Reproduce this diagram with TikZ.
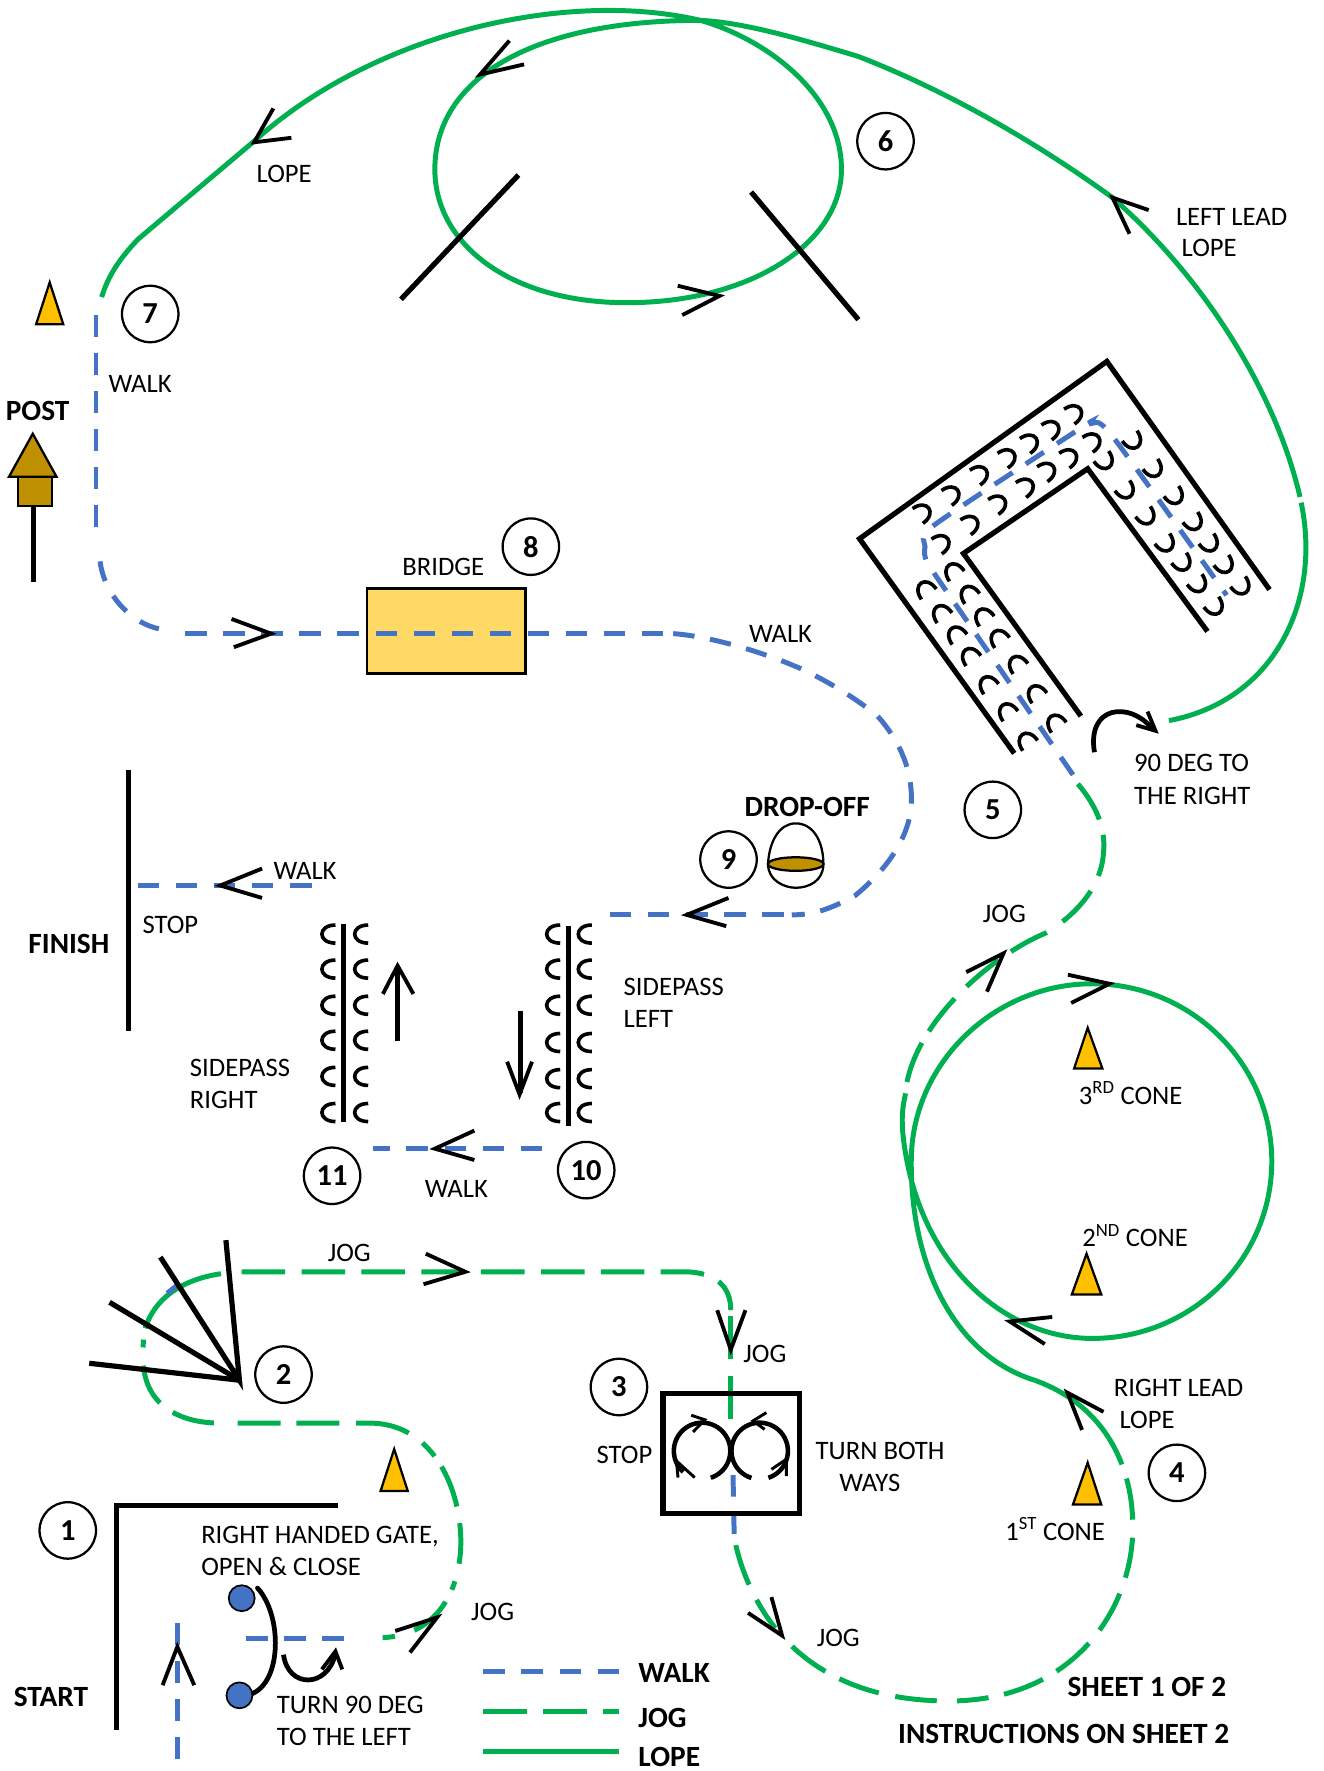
\documentclass[tikz,border=0pt]{standalone}
\usepackage{fontspec}
\setmainfont{Carlito}
\definecolor{walkc}{HTML}{4472C4}
\definecolor{jogc}{HTML}{00B050}
\definecolor{conec}{HTML}{FFC000}
\definecolor{postc}{HTML}{BF9000}
\definecolor{bridgec}{HTML}{FFD966}
\tikzset{
  walk/.style={draw=walkc,line width=4.4pt,dash pattern=on 19pt off 14.7pt},
  jog/.style={draw=jogc,line width=4.4pt,dash pattern=on 38.5pt off 14.5pt},
  lope/.style={draw=jogc,line width=4.4pt},
  bar/.style={draw=black,line width=4.6pt},
  chev/.style={draw=black,line width=3.4pt,line join=miter},
  hoofm/.style={draw=black,line width=3.2pt},
  conem/.style={draw=black,line width=2pt,fill=conec,line join=miter},
  numb/.style={circle,draw=black,line width=2pt,minimum size=50pt,inner sep=0pt,font=\fontsize{27}{27}\selectfont\bfseries},
  lab/.style={anchor=west,inner sep=0pt,text height=15pt,text depth=0pt,font=\fontsize{23.6}{28}\selectfont},
  blab/.style={anchor=west,inner sep=0pt,text height=16.5pt,text depth=0pt,font=\fontsize{26}{28}\selectfont\bfseries},
}
\newcommand\hoofat[3]{\draw[hoofm,shift={(#1,#2)},rotate=#3] (-8,5) .. controls (-8,-11) and (8,-11) .. (8,5);}
\begin{document}
\begin{tikzpicture}[x=1pt,y=-1pt]
\useasboundingbox (0,0) rectangle (1172,1568);
% lope: big loop
\draw[lope] (90,263) .. controls (97,240) and (110,225) .. (122,212) -- (225,125) .. controls (330,30) and (500,-10) .. (620,18) .. controls (680,35) and (745,85) .. (745,150) .. controls (745,215) and (665,268) .. (555,268) .. controls (450,268) and (385,215) .. (385,150) .. controls (385,70) and (470,18) .. (620,18) .. controls (660,20) and (710,35) .. (760,50) .. controls (850,85) and (930,135) .. (985,175) .. controls (1070,250) and (1130,350) .. (1151,440);
\draw[lope] (1152,445) .. controls (1170,530) and (1130,620) .. (1035,638);
% right lead lope
\draw[lope] (916,1222) .. controls (845,1200) and (806,1120) .. (806.8,1028) .. controls (806.8,942) and (880,871) .. (967,871) .. controls (1055,871) and (1126,942) .. (1126,1028) .. controls (1126,1115) and (1055,1185) .. (967,1185) .. controls (890,1185) and (812,1120) .. (799.5,1005) .. controls (798,990) and (799,980) .. (801.8,968);
% jog segments
\draw[jog,dash pattern=on 37pt off 14pt on 37pt off 15pt on 37pt off 17pt on 36pt off 13pt on 37pt off 15pt on 37pt off 12pt on 38pt off 80pt] (954.3,694) .. controls (972,715) and (979,735) .. (977,755) .. controls (975,790) and (945,815) .. (926,826) .. controls (880,845) and (815,900) .. (803,958);
\draw[jog,dash pattern=on 37pt off 15pt on 30pt off 22pt on 37pt off 14pt on 37pt off 15pt on 37pt off 18pt on 28pt off 14pt on 37pt off 14pt on 38pt off 15pt on 37pt off 15pt on 36pt off 16pt on 37pt off 13pt on 200pt off 10pt] (651.4,1368) .. controls (665,1425) and (710,1506) .. (840,1506) .. controls (950,1506) and (1003,1425) .. (1003,1352) .. controls (1003,1300) and (980,1245) .. (916,1222);
\draw[jog] (214,1126) -- (605,1126) .. controls (635,1126) and (647,1140) .. (647,1160);
\draw[jog,dash pattern=on 38pt off 15pt] (647,1165) -- (647,1256);
\draw[lope] (195.6,1127.7) .. controls (160,1133) and (137,1150) .. (128.5,1176);
\draw[lope] (127,1186) -- (126.7,1193);
\draw[jog,dash pattern=on 37pt off 14pt on 38pt off 21pt on 38pt off 14pt on 38pt off 15pt on 48pt off 15pt on 16pt off 11pt on 38pt off 15pt on 36pt off 16pt on 8pt off 12pt on 38pt off 18pt on 11pt off 100pt] (127,1209) .. controls (130,1245) and (160,1260) .. (195,1260) -- (330,1260) .. controls (385,1262) and (408,1320) .. (408,1365) .. controls (408,1410) and (385,1450) .. (335,1450);
% walk segments
\draw[walk] (85,279) -- (85,470);
\draw[walk,dash pattern=on 18pt off 15pt] (88.6,497) .. controls (92,525) and (115,552) .. (142,557);
\draw[walk] (164,561) -- (590,561);
\draw[walk,dash pattern=on 19pt off 14pt] (596,561) .. controls (625,563) and (670,575) .. (709,592) .. controls (735,604) and (760,620) .. (777,634) .. controls (800,660) and (807,685) .. (807,708) .. controls (807,740) and (785,770) .. (757,793) .. controls (735,805) and (720,810) .. (701,810);
\draw[walk] (540,810) -- (696,810);
\draw[walk] (480,1017) -- (330,1017);
\draw[walk] (122,784) -- (280,784);
\draw[walk] (157,1437) -- (157,1557);
\draw[walk] (218,1451) -- (305,1451);
\draw[walk] (649,1306) -- (650,1358);
\draw[walk,dash pattern=on 19pt off 14pt] plot[smooth,tension=0.4] coordinates {(950,686) (848,538) (821,498) (819,484) (827,465) (957,379) (966,375) (984,385) (1086,527)};
\draw[draw=walkc,line width=4.4pt] (148,1145) -- (158,1137);
% legend
\draw[walk] (428,1480) -- (548,1480);
\draw[jog] (428,1515) -- (548,1515);
\draw[lope] (428,1551) -- (548,1551);
% bridge
\fill[bridgec] (325,521) rectangle (465,596);
\draw[walk] (332.5,561) -- (465,561);
\draw[draw=black,line width=2.5pt] (325,521) rectangle (465,596);
% barriers
\draw[bar] (355,265) -- (459,155);
\draw[bar] (665,170) -- (760,283);
\draw[bar,line join=miter] (898,667) -- (761,477) -- (980,320) -- (1124,522);
\draw[bar,line join=miter] (957,634) -- (853,490) -- (963,415) -- (1069,559);
\draw[bar] (114,682) -- (114,913);
\draw[bar] (304,818) -- (304,993);
\draw[bar] (503,820) -- (503,997);
\draw[bar,line join=miter] (299,1333) -- (103,1333) -- (103,1532);
\draw[bar,line join=miter] (200,1098) -- (212,1222) -- (142,1113);
\draw[bar] (212,1222) -- (97,1153);
\draw[bar] (212,1222) -- (79,1207);
\draw[draw=black,line width=4.6pt] (587,1234) rectangle (708,1340);
% hooves chute
\foreach \x/\y in {819.5/522,833.4/543,846.7/562,859/581,874.7/606,891.8/630,909.2/656,844.3/506,857.9/526,870.8/546,884.4/565,900.6/588,917.4/614,934.6/640}{\hoofat{\x}{\y}{35}}
\foreach \x/\y in {816.6/454,842.2/438,867.3/420,891.8/405,911.6/392,930.7/380,950.8/366,833.4/481,859/464,883.5/446,908/431,926.9/417,946.4/405,967/391}{\hoofat{\x}{\y}{-55}}
\foreach \x/\y in {1003/390,1021.3/415,1039.9/439,1056.7/462,1070.9/481,1084.1/500,1098.9/519,977.9/408,996.5/434,1014.8/457,1031.9/481,1046.7/498,1060.5/517,1075.3/537}{\hoofat{\x}{\y}{-145}}
% hooves sidepass
\foreach \y in {827,858,890,921,953,985}{\hoofat{292}{\y}{90}\hoofat{321}{\y}{90}}
\foreach \y in {827,858,890,923,955,985}{\hoofat{491}{\y}{90}\hoofat{519}{\y}{90}}
% chevrons
\draw[chev] (242,96) -- (225,126) -- (258,122);
\draw[chev] (451,36) -- (425,66) -- (464,57);
\draw[chev] (600,253) -- (637,262) -- (604,279);
\draw[chev] (1017,186) -- (985,175) -- (1000,207);
\draw[chev] (205,548) -- (240,561) -- (207,573);
\draw[chev] (232,769) -- (195,784) -- (232,795);
\draw[chev] (645,795) -- (608,810) -- (643,820);
\draw[chev] (420,1001) -- (385,1017) -- (420,1027);
\draw[chev] (377,1110) -- (412,1126) -- (375,1137);
\draw[chev] (635,1160) -- (647,1195) -- (660,1160);
\draw[chev] (662.3,1428) -- (692.4,1448) -- (683,1414);
\draw[chev] (977,1250) -- (945,1233) -- (958,1266);
\draw[chev] (931.6,1166) -- (894,1170) -- (925,1190);
\draw[chev] (945.5,863) -- (982.4,871) -- (948.4,888);
\draw[chev] (855.5,860.7) -- (888.5,844) -- (873.8,878);
\draw[chev] (350,1444) -- (387,1432) -- (363,1463);
\draw[chev] (144,1492) -- (157,1458) -- (172,1492);
% straight arrows
\draw[bar] (352,922) -- (352,856);
\draw[chev] (339,880) -- (352,855) -- (366,880);
\draw[bar] (461,895) -- (461,968);
\draw[chev] (449,940) -- (460,969) -- (471,940);
% turn arrows
\draw[line width=4.2pt] (251,1465) .. controls (255,1495) and (290,1495) .. (297,1464);
\draw[chev] (285,1478) -- (297,1462) -- (303,1478);
\draw[line width=4.2pt] (969,666) .. controls (962,625) and (1000,620) .. (1021,646);
\draw[chev] (1006,642) -- (1023,647) -- (1016,630);
\draw[line width=4.2pt,line cap=round] (228,1406) .. controls (250,1430) and (250,1490) .. (222,1500);
% box 3 turns
\draw[line width=4pt] plot[domain=72:-228,samples=50] ({621.6+25*cos(\x)},{1284.6+25*sin(\x)});
\draw[line width=4pt] plot[domain=107:432,samples=50] ({672.6+25*cos(\x)},{1284.6+25*sin(\x)});
\draw[chev,line width=2.6pt] (612,1253) -- (624,1257) -- (613.6,1267.8);
\draw[chev,line width=2.6pt] (678.5,1250.7) -- (666.7,1258) -- (677,1265.5);
\draw[chev,line width=2.6pt] (600.3,1308.2) -- (598.9,1293.5) -- (615.1,1308.2);
\draw[chev,line width=2.6pt] (696.2,1306.8) -- (696.2,1292) -- (683,1300.9);
% cones and post
\draw[conem] (44,250) -- (32,287) -- (56,287) -- cycle;
\draw[conem] (349,1283) -- (337,1320) -- (361,1320) -- cycle;
\draw[conem] (963,1295) -- (950,1332) -- (975,1332) -- cycle;
\draw[conem] (962,1110) -- (949,1146) -- (975,1146) -- cycle;
\draw[conem] (963,910) -- (951,946) -- (976,946) -- cycle;
\draw[conem,fill=postc] (29,384) -- (8,422) -- (50,422) -- cycle;
\draw[conem,fill=postc] (16,422) rectangle (46,448);
\draw[bar] (30,448) -- (30,515);
% gate posts
\draw[draw=black,line width=1.5pt,fill=walkc] (214,1415) circle (11.5);
\draw[draw=black,line width=1.5pt,fill=walkc] (212,1501) circle (11.5);
% drop-off
\draw[draw=black,line width=2pt] (680,765) .. controls (680,780) and (695,786) .. (704.5,786) .. controls (716,786) and (729,780) .. (729,765) .. controls (729,745) and (720,729) .. (704.5,729) .. controls (690,729) and (681,745) .. (680,765);
\draw[draw=black,line width=2pt,fill=postc] (704.5,765) ellipse (24.6 and 6);
% numbers
\node[numb] (n1) at (60,1355) {1};
\node[numb] (n2) at (251,1217) {2};
\node[numb] (n3) at (548,1228) {3};
\node[numb] (n4) at (1042,1304) {4};
\node[numb] (n5) at (879,717) {5};
\node[numb] (n6) at (784,125) {6};
\node[numb] (n7) at (133,278) {7};
\node[numb] (n8) at (470,484) {8};
\node[numb] (n9) at (645,761) {9};
\node[numb] (n10) at (519,1036) {10};
\node[numb] (n11) at (294,1041) {11};
% labels
\node[lab] (t1) at (96,340) {WALK};
\node[lab] (t2) at (227,154) {LOPE};
\node[lab] (t3) at (1041,192) {LEFT LEAD};
\node[lab] (t4) at (1046,220) {LOPE};
\node[blab] (t5) at (5,364) {POST};
\node[lab] (t6) at (356,502) {BRIDGE};
\node[lab] (t7) at (663,561) {WALK};
\node[blab] (t8) at (659,715) {DROP-OFF};
\node[lab] (t9) at (1004,676) {90 DEG TO};
\node[lab] (t10) at (1004,705) {THE RIGHT};
\node[lab] (t11) at (870,809) {JOG};
\node[lab] (t12) at (126,819) {STOP};
\node[blab] (t13) at (25,836) {FINISH};
\node[lab] (t14) at (552,874) {SIDEPASS};
\node[lab] (t15) at (552,902) {LEFT};
\node[lab] (t16) at (168,946) {SIDEPASS};
\node[lab] (t17) at (168,974) {RIGHT};
\node[lab] (t18) at (242,771) {WALK};
\node[lab] (t19) at (955,970) {3\textsuperscript{RD} CONE};
\node[lab] (t20) at (958,1096) {2\textsuperscript{ND} CONE};
\node[lab] (t21) at (376,1053) {WALK};
\node[lab] (t22) at (290,1109) {JOG};
\node[lab] (t23) at (658,1199) {JOG};
\node[lab] (t24) at (986,1229) {RIGHT LEAD};
\node[lab] (t25) at (991,1257) {LOPE};
\node[lab] (t26) at (722,1285) {TURN BOTH};
\node[lab] (t27) at (743,1313) {WAYS};
\node[lab] (t28) at (528,1288) {STOP};
\node[lab] (t29) at (178,1359) {RIGHT HANDED GATE,};
\node[lab] (t30) at (178,1387) {OPEN \& CLOSE};
\node[lab] (t31) at (890,1356) {1\textsuperscript{ST} CONE};
\node[lab] (t32) at (417,1427) {JOG};
\node[lab] (t33) at (723,1450) {JOG};
\node[blab] (t34) at (12,1503) {START};
\node[lab] (t35) at (245,1510) {TURN 90 DEG};
\node[lab] (t36) at (245,1538) {TO THE LEFT};
\node[blab] (t37) at (565,1481) {WALK};
\node[blab] (t38) at (565,1521) {JOG};
\node[blab] (t39) at (565,1556) {LOPE};
\node[blab] (t40) at (945,1494) {SHEET 1 OF 2};
\node[blab] (t41) at (795,1535) {INSTRUCTIONS ON SHEET 2};
\end{tikzpicture}
\end{document}
